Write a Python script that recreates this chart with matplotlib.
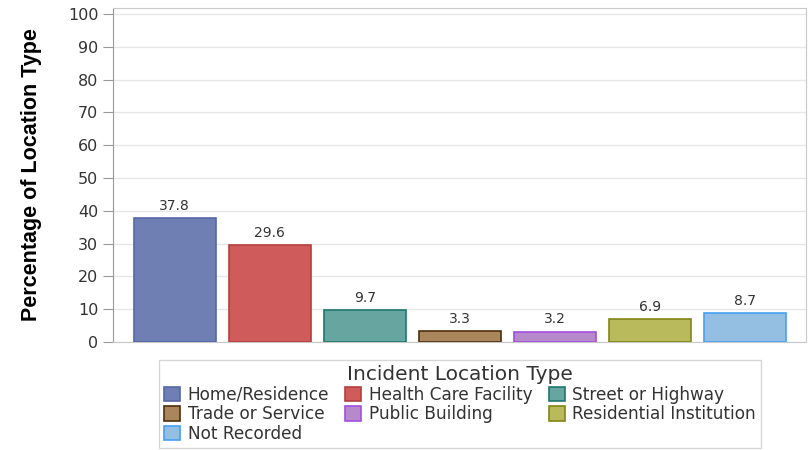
import matplotlib

matplotlib.use("Agg")
import matplotlib.pyplot as plt  # noqa: E402
import numpy as np  # noqa: E402

categories = ["Home/Residence", "Health Care Facility", "Street or Highway",
              "Trade or Service", "Public Building", "Residential Institution",
              "Not Recorded"]
values = [37.8, 29.6, 9.7, 3.3, 3.2, 6.9, 8.7]
fills = ["#6F7EB3", "#D05B5B", "#66A5A0", "#A9865B", "#B689CB", "#B8BA5C", "#94BFE3"]
edges = ["#5567A8", "#B53E3E", "#1F776D", "#4F300C", "#A24FE0", "#838517", "#46A0F2"]
yticks = list(range(0, 101, 10))

plt.rcParams["font.family"] = ["DejaVu Sans"]

fig = plt.figure(figsize=(8.1, 4.5), dpi=100)
ax = fig.add_axes([113 / 810, 1 - 342 / 450, (806 - 113) / 810, (342 - 8) / 450])

x = np.arange(len(values))
ax.bar(x, values, width=0.86, color=fills, edgecolor=edges, linewidth=1.2, zorder=3)
for xi, v in zip(x, values):
    ax.text(xi, v + 1.6, f"{v:.1f}", ha="center", va="bottom", fontsize=10, color="#333333")

ax.set_xlim(-0.65, len(values) - 1 + 0.64)
ax.set_ylim(0, 101.8)
ax.set_yticks(yticks)
ax.set_xticks([])
ax.tick_params(axis="y", direction="out", length=7, color="#999999",
               labelsize=11.5, labelcolor="#333333")
ax.yaxis.grid(True, color="#E6E6E6", lw=1.0, zorder=0)
for side in ("top", "right", "bottom"):
    ax.spines[side].set_color("#C8C8C8")
ax.spines["left"].set_color("#999999")
ax.set_ylabel("Percentage of Location Type", fontsize=15.5, fontweight="bold",
              family="Liberation Sans", labelpad=18.5)

# row-major order in a 3-column legend
order = [0, 3, 6, 1, 4, 2, 5]
handles = [plt.Rectangle((0, 0), 1, 1, facecolor=fills[i], edgecolor=edges[i], lw=1.2)
           for i in order]
labels = [categories[i] for i in order]
leg = fig.legend(handles, labels, ncol=3, loc="center",
                 bbox_to_anchor=(460 / 810, 1 - 404 / 450),
                 title="Incident Location Type", title_fontsize=14.5, fontsize=12.2,
                 frameon=True, fancybox=False, edgecolor="#CCCCCC",
                 handlelength=0.95, handleheight=0.9, handletextpad=0.45,
                 columnspacing=0.95, labelspacing=0.1, borderpad=0.3)
leg.get_frame().set_linewidth(1.0)
leg.get_title().set_color("#333333")
for t in leg.get_texts():
    t.set_color("#333333")

fig.savefig("out.png", dpi=100)
